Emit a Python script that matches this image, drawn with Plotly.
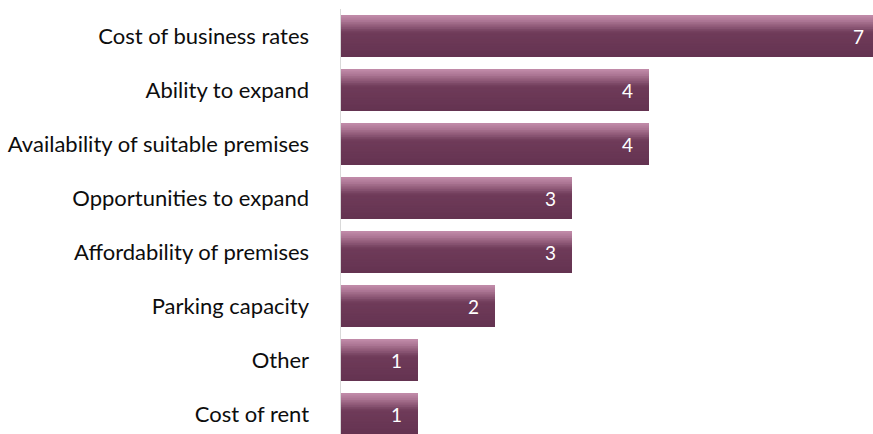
import plotly.graph_objects as go

categories = [
    "Cost of business rates",
    "Ability to expand",
    "Availability of suitable premises",
    "Opportunities to expand",
    "Affordability of premises",
    "Parking capacity",
    "Other",
    "Cost of rent",
]
values = [7, 4, 4, 3, 3, 2, 1, 1]
value_labels = [str(v) for v in values]

# gradient stops (position from top of bar, rgb)
STOPS = [(0.0, (196, 142, 171)), (0.15, (170, 116, 146)), (0.42, (111, 59, 89)), (1.0, (100, 51, 81))]
BAR_W = 0.78
N_BANDS = 24

W, H = 873, 434
PLOT_L = 341
PLOT_T = 9
UNIT_PX = 77
SLOT_PX = 54


def grad(t):
    for (p0, c0), (p1, c1) in zip(STOPS[:-1], STOPS[1:]):
        if p0 <= t <= p1:
            f = (t - p0) / (p1 - p0) if p1 > p0 else 0
            c = [round(a + (b - a) * f) for a, b in zip(c0, c1)]
            return "rgb(%d,%d,%d)" % tuple(c)
    return "rgb(%d,%d,%d)" % STOPS[-1][1]


fig = go.Figure()
h = BAR_W / N_BANDS
for i in range(N_BANDS):
    t = (i + 0.5) / N_BANDS
    w = h * 1.6 if i < N_BANDS - 1 else h
    fig.add_trace(go.Bar(
        y=categories, x=values, orientation="h",
        offset=-BAR_W / 2 + i * h, width=w,
        marker=dict(color=grad(t), line=dict(width=0)),
        hoverinfo="skip", showlegend=False,
    ))

# value labels (transparent bar carrying the text)
PAD = 13 / UNIT_PX
fig.add_trace(go.Bar(
    y=categories, x=[v - PAD for v in values], orientation="h",
    width=BAR_W, marker=dict(color="rgba(0,0,0,0)", line=dict(width=0)),
    text=value_labels, textposition="inside", insidetextanchor="end",
    textfont=dict(color="white", size=19, family="Lato"),
    constraintext="none", cliponaxis=False,
    hoverinfo="skip", showlegend=False,
))

plot_w = W - PLOT_L
plot_h = H - PLOT_T
fig.update_layout(
    width=W, height=H,
    margin=dict(l=PLOT_L, r=0, t=PLOT_T, b=0, pad=0, autoexpand=False),
    barmode="overlay",
    plot_bgcolor="white", paper_bgcolor="white",
    font=dict(family="Lato", size=22, color="#0d0d0d"),
    xaxis=dict(range=[0, plot_w / UNIT_PX], visible=False, fixedrange=True, automargin=False),
    yaxis=dict(
        type="category", categoryorder="array", categoryarray=categories,
        range=[-0.5 + plot_h / SLOT_PX, -0.5], automargin=False, fixedrange=True,
        showline=True, linecolor="#d9d9d9", linewidth=1.5,
        showgrid=False, ticks="", ticklabelstandoff=26,
        tickfont=dict(family="Lato", size=22, color="#0d0d0d"),
    ),
)

fig.write_html(
    "out.html",
    config={"displayModeBar": False, "staticPlot": True},
    post_script="document.body.style.margin='0';document.body.style.overflow='hidden';",
)
